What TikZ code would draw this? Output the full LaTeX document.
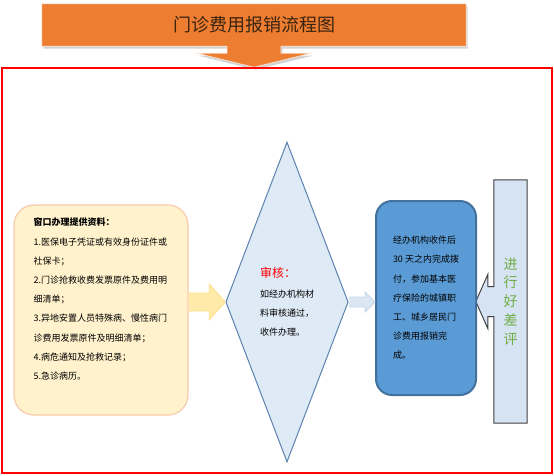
\documentclass[tikz,border=0pt]{standalone}
\usepackage{fontspec}
\setmainfont{Noto Sans CJK SC}
\usetikzlibrary{shapes.geometric,calc,shadows,backgrounds}
\definecolor{titleorange}{RGB}{237,125,49}
\definecolor{titleink}{RGB}{58,36,16}
\definecolor{infofill}{RGB}{255,242,204}
\definecolor{infoline}{RGB}{248,203,173}
\definecolor{yarrowfill}{RGB}{255,234,170}
\definecolor{yarrowline}{RGB}{255,224,140}
\definecolor{checkfill}{RGB}{222,234,246}
\definecolor{checkline}{RGB}{92,130,176}
\definecolor{barrowfill}{RGB}{218,230,243}
\definecolor{barrowline}{RGB}{196,214,236}
\definecolor{settlefill}{RGB}{91,155,213}
\definecolor{settleline}{RGB}{65,113,156}
\definecolor{ratefill}{RGB}{214,227,242}
\definecolor{rategreen}{RGB}{112,173,71}

\begin{document}
\begin{tikzpicture}[x=1pt, y=-1pt,
    titlebox/.style={minimum width=424pt, minimum height=42pt, inner sep=0pt, font=\fontsize{18}{20}\selectfont, text=titleink},
    titlearrow/.style={fill=titleorange, draw=white!80!titleorange, line width=0.6pt, drop shadow={opacity=0.35, shadow xshift=1.5pt, shadow yshift=-2.5pt}},
    infobox/.style={draw=infoline, fill=infofill, line width=1.2pt, rounded corners=20pt, minimum width=174pt, minimum height=210pt},
    infotext/.style={anchor=north west, inner sep=0pt, align=left, font=\fontsize{9}{19.2}\selectfont},
    checkbox/.style={diamond, draw=checkline, fill=checkfill, line width=1pt, minimum width=118pt, minimum height=320pt, inner sep=0pt, align=left, font=\fontsize{9}{19.2}\selectfont},
    settlebox/.style={draw=settleline, fill=settlefill, line width=2pt, rounded corners=16pt, minimum width=100pt, minimum height=194pt, inner sep=0pt, align=left, font=\fontsize{9}{19.2}\selectfont},
    ratebox/.style={minimum width=33pt, minimum height=243pt, inner sep=0pt, align=center, text=rategreen, font=\fontsize{14}{18.75}\selectfont},
    yarrow/.style={draw=yarrowline, fill=yarrowfill, line width=0.8pt},
    barrow/.style={draw=barrowline, fill=barrowfill, line width=0.8pt}
]
\useasboundingbox (0,0) rectangle (554,475);

% Title banner with its down arrow
\node[titlebox] (title) at (254,25) {门诊费用报销流程图};
\begin{pgfonlayer}{background}
\draw[titlearrow] (title.north west) -- (title.north east) -- (title.south east)
    -- ($(title.south)+(27,0)$) -- ($(title.south)+(27,7)$) -- ($(title.south)+(57,7)$)
    -- ($(title.south)+(0,21)$)
    -- ($(title.south)+(-57,7)$) -- ($(title.south)+(-27,7)$) -- ($(title.south)+(-27,0)$)
    -- (title.south west) -- cycle;
\end{pgfonlayer}

% Red frame round the flow
\draw[red, line width=1.2pt] (2,68) rectangle (552,473);

% Materials to hand in at the window
\node[infobox] (info) at (101,310) {};
\node[infotext] (infotxt) at ($(info.north west)+(20,13.5)$) {%
    \textbf{窗口办理提供资料：}\\
    1.医保电子凭证或有效身份证件或\\
    社保卡；\\
    2.门诊抢救收费发票原件及费用明\\
    细清单；\\
    3.异地安置人员特殊病、慢性病门\\
    诊费用发票原件及明细清单；\\
    4.病危通知及抢救记录；\\
    5.急诊病历。};

% Check step
\node[checkbox] (check) at (287,302) {%
    {\color{red}\fontsize{12}{19.2}\selectfont 审核：}\\
    如经办机构材\\
    料审核通过，\\
    收件办理。};

% Payment done
\node[settlebox] (settle) at (426,298) {%
    经办机构收件后\\
    30 天之内完成拨\\
    付，参加基本医\\
    疗保险的城镇职\\
    工、城乡居民门\\
    诊费用报销完\\
    成。};

% Rating bar with its arrow pointer
\node[ratebox] (rate) at (510.5,301.5) {进\\行\\好\\差\\评};
\begin{pgfonlayer}{background}
\draw[draw=black!75, fill=ratefill, line width=1pt] (rate.north west) -- (rate.north east)
    -- (rate.south east) -- (rate.south west)
    -- ($(rate.west)+(0,15)$) -- ++(-6,0) -- ++(0,12) -- ($(rate.west)+(-18,0)$)
    -- ($(rate.west)+(-6,-27)$) -- ++(0,12) -- ++(6,0) -- cycle;
\end{pgfonlayer}

% Block arrows between the steps
\draw[yarrow] ($(info.east |- check.west)+(0,-9)$) -- ($(check.west)+(-16,-9)$)
    -- ($(check.west)+(-16,-18)$) -- (check.west) -- ($(check.west)+(-16,18)$)
    -- ($(check.west)+(-16,9)$) -- ($(info.east |- check.west)+(0,9)$);
\draw[barrow] ($(check.east)+(0,-5)$) -- ($(settle.west |- check.east)+(-10,-5)$)
    -- ++(0,-5) -- (settle.west |- check.east) -- ($(settle.west |- check.east)+(-10,10)$)
    -- ++(0,-5) -- ($(check.east)+(0,5)$);

\end{tikzpicture}
\end{document}
